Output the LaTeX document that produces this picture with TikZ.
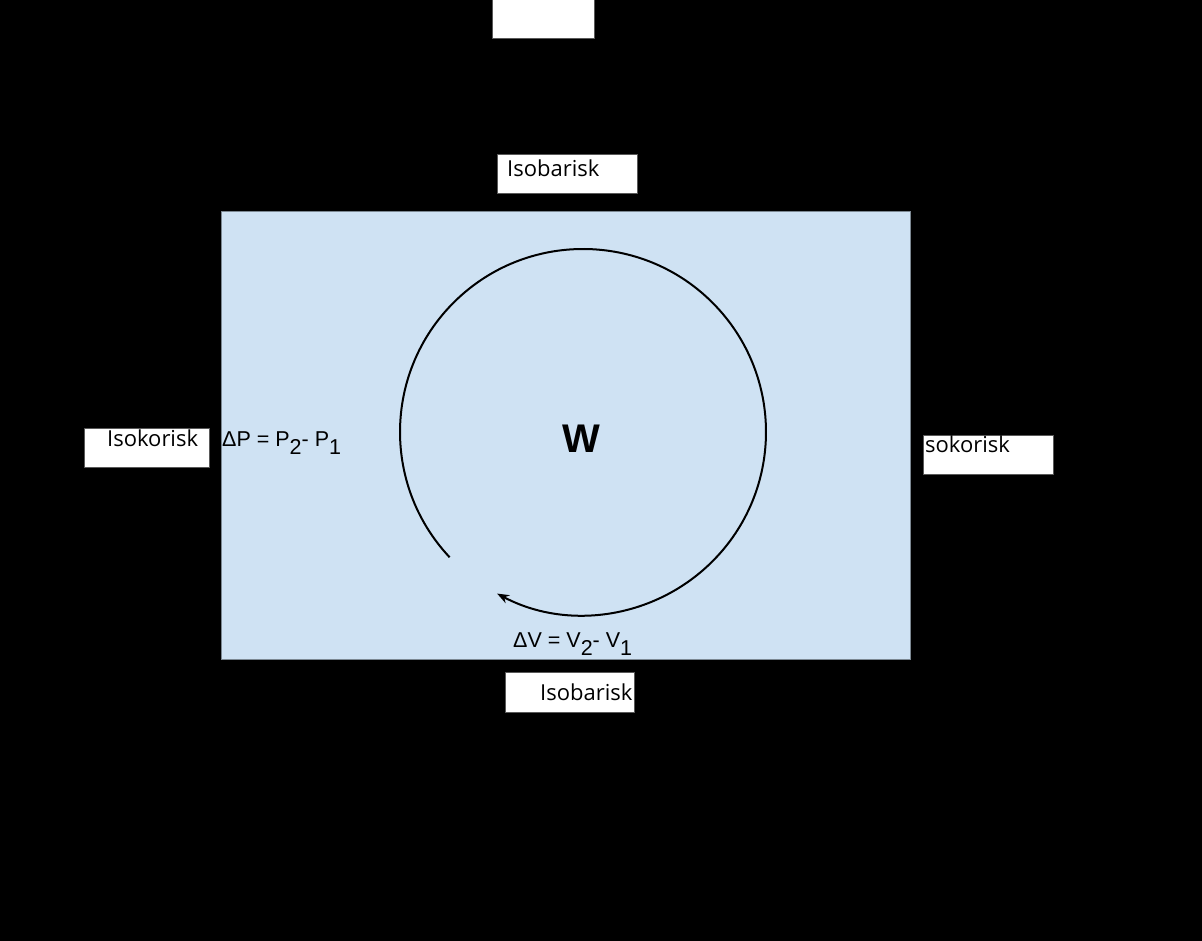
\documentclass[tikz,border=0pt]{standalone}
\usepackage{fontspec}
\setmainfont{Liberation Sans}
\newfontfamily\labelfont{Open Sans}
\usetikzlibrary{arrows.meta}
\definecolor{bgblue}{HTML}{CFE2F3}
\definecolor{boxedge}{HTML}{595959}
\tikzset{
  whitebox/.style={fill=white,draw=boxedge,line width=1pt},
  lbl/.style={anchor=base west,inner sep=0pt,font=\labelfont\fontsize{22}{26}\selectfont,text=black},
  eq/.style={anchor=base west,inner sep=0pt,font=\fontsize{21.5}{25}\selectfont,text=black},
}
\newcommand{\lowsub}[1]{\raisebox{-8pt}{#1}}
\begin{document}
\begin{tikzpicture}[x=1pt,y=1pt]
\useasboundingbox (0,0) rectangle (1202,941);
\fill[black] (0,0) rectangle (1202,941);
% top blank box
\draw[whitebox] (492,902) rectangle (594,942);
% blue region
\draw[fill=bgblue,draw=bgblue!60!black,line width=0.8pt] (221,282) rectangle (910,730);
% label boxes
\draw[whitebox] (497,747) rectangle (637,786);
\node[lbl] (isobtop) at (507,764) {Isobarisk};
\draw[whitebox] (84,473) rectangle (209,512);
\node[lbl] (isokleft) at (107,494) {Isokorisk};
\draw[whitebox] (923,466) rectangle (1053,505);
\node[lbl] (isokright) at (925,488) {sokorisk};
\draw[whitebox] (505,228) rectangle (634,268);
\node[lbl] (isobbot) at (540,240) {Isobarisk};
% equations
\node[eq] (dp) at (222,494) {ΔP = P\lowsub{2}- P\lowsub{1}};
\node[eq] (dv) at (513,293) {ΔV = V\lowsub{2}- V\lowsub{1}};
% work
\node[anchor=base,inner sep=0pt,font=\bfseries\fontsize{40}{44}\selectfont] (w) at (581.5,488) {W};
% cycle arc
\coordinate (c) at (583,509);
\draw[line width=2pt,-{Stealth[length=12pt,width=9pt]}] ([shift={(223.2:183)}]c) arc[start angle=223.2,end angle=-118,radius=183];
\end{tikzpicture}
\end{document}
